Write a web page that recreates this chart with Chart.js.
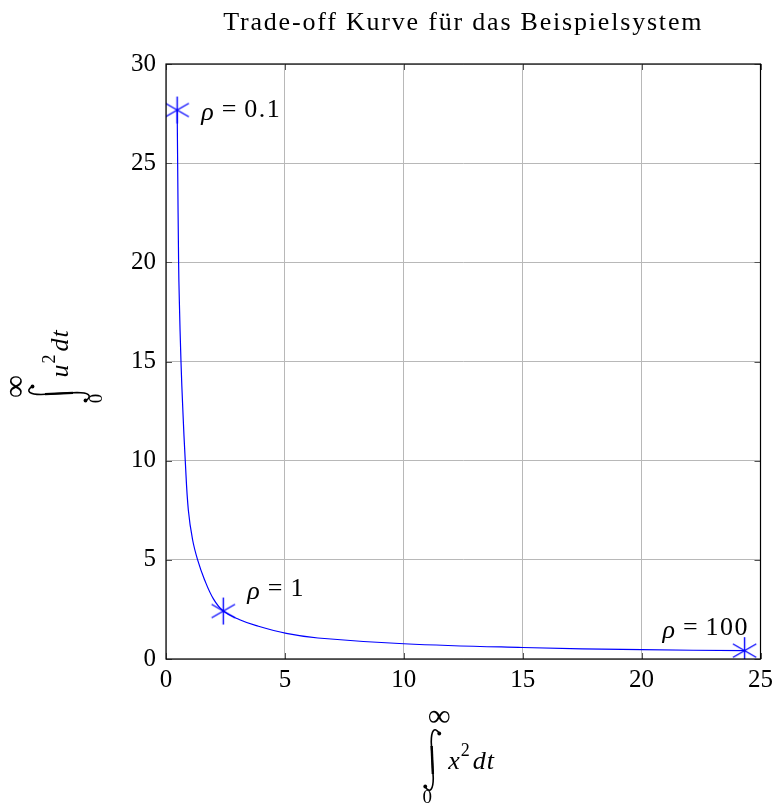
<!DOCTYPE html>
<html>
<head>
<meta charset="utf-8">
<script src="https://cdn.jsdelivr.net/npm/chart.js@4/dist/chart.umd.min.js"></script>
<style>
  html, body { margin: 0; padding: 0; background: #fff; }
  #wrap { width: 779px; height: 808px; position: relative; }
</style>
</head>
<body>
<div id="wrap"><canvas id="c" width="779" height="808"></canvas></div>
<script>
// ---- data ----
const titleText = "Trade-off Kurve für das Beispielsystem";
const curveX = [0.47, 0.49, 0.53, 0.56, 0.63, 0.71, 0.81, 0.94, 1.12, 1.33, 1.62, 2.0, 2.41, 3.1, 3.8, 5.06, 6.39, 10, 15, 20, 24.33];
const curveY = [27.68, 25, 20, 18.1, 15, 12.5, 10, 7.5, 6.0, 5.0, 4.0, 3.02, 2.42, 1.98, 1.68, 1.29, 1.06, 0.77, 0.58, 0.47, 0.42];
const markerRho = ["0.1", "1", "100"];
const markerX = [0.47, 2.41, 24.33];
const markerY = [27.68, 2.42, 0.42];
const xTicks = [0, 5, 10, 15, 20, 25];
const yTicks = [0, 5, 10, 15, 20, 25, 30];

const SERIF = '"Liberation Serif", "DejaVu Serif", serif';
const BLUE = '#0000ff';

// asterisk marker (6 arms, one vertical)
function makeAsterisk(r, color, lw) {
  const s = Math.ceil(2 * r + 4);
  const cv = document.createElement('canvas');
  cv.width = s; cv.height = s;
  const g = cv.getContext('2d');
  g.strokeStyle = color; g.lineWidth = lw;
  g.translate(s / 2, s / 2);
  for (let k = 0; k < 3; k++) {
    const a = Math.PI / 2 + k * Math.PI / 3;
    g.beginPath();
    g.moveTo(-r * Math.cos(a), -r * Math.sin(a));
    g.lineTo(r * Math.cos(a), r * Math.sin(a));
    g.stroke();
  }
  return cv;
}
const star = makeAsterisk(13.5, BLUE, 1.4);

function drawIntegralLabel(ctx, cx, cy, rot, varName) {
  ctx.save();
  ctx.translate(cx, cy);
  ctx.rotate(rot);
  ctx.fillStyle = '#000';
  ctx.strokeStyle = '#000';
  // integral sign (path)
  ctx.beginPath();
  ctx.lineWidth = 1.6;
  ctx.moveTo(7, -27);
  ctx.bezierCurveTo(2, -34, -1, -29, -1, -18);
  ctx.lineTo(1, 18);
  ctx.bezierCurveTo(1, 29, -2, 34, -7, 27);
  ctx.stroke();
  ctx.beginPath(); ctx.lineWidth = 2.4;
  ctx.moveTo(-0.6, -14); ctx.lineTo(0.6, 14); ctx.stroke();
  ctx.beginPath(); ctx.arc(7, -26.5, 1.9, 0, Math.PI * 2); ctx.fill();
  ctx.beginPath(); ctx.arc(-7, 26.5, 1.9, 0, Math.PI * 2); ctx.fill();
  // limits
  ctx.textAlign = 'center'; ctx.textBaseline = 'middle';
  ctx.font = '32px ' + SERIF;
  ctx.fillText('∞', 7, -42);
  ctx.font = '19px ' + SERIF;
  ctx.fillText('0', -5, 38);
  // integrand
  ctx.textAlign = 'left'; ctx.textBaseline = 'alphabetic';
  ctx.font = 'italic 26px ' + SERIF;
  let x = 16;
  ctx.fillText(varName, x, 9);
  x += ctx.measureText(varName).width + 1;
  ctx.font = '18px ' + SERIF;
  ctx.fillText('2', x, -4);
  x += ctx.measureText('2').width + 3;
  ctx.font = 'italic 26px ' + SERIF;
  ctx.letterSpacing = '1px';
  ctx.fillText('dt', x, 9);
  ctx.restore();
}

function drawRho(ctx, x, y, val, align) {
  ctx.save();
  ctx.fillStyle = '#000';
  ctx.textBaseline = 'middle';
  const f1 = 'italic 26px ' + SERIF, f2 = '26px ' + SERIF;
  const gap = 8;
  ctx.font = f1; const w1 = ctx.measureText('ρ').width;
  ctx.font = f2; const we = ctx.measureText('=').width; const wv = ctx.measureText(val).width + (val.length - 1) * 1.5;
  const total = w1 + gap + we + gap + wv;
  let sx = align === 'right' ? x - total : x;
  ctx.textAlign = 'left';
  ctx.font = f1; ctx.fillText('ρ', sx, y + 3);
  ctx.font = f2; ctx.fillText('=', sx + w1 + gap, y);
  ctx.letterSpacing = '1.5px';
  ctx.fillText(val, sx + w1 + gap + we + gap, y);
  ctx.restore();
}

const decor = {
  id: 'decor',
  beforeDatasetsDraw(chart) {
    const { ctx, chartArea: a, scales } = chart;
    ctx.save();
    // inner tick marks
    ctx.strokeStyle = '#555'; ctx.lineWidth = 1;
    xTicks.forEach(v => {
      const px = Math.round(scales.x.getPixelForValue(v)) + 0.5;
      ctx.beginPath();
      ctx.moveTo(px, a.bottom); ctx.lineTo(px, a.bottom - 6);
      ctx.moveTo(px, a.top); ctx.lineTo(px, a.top + 6);
      ctx.stroke();
    });
    yTicks.forEach(v => {
      const py = Math.round(scales.y.getPixelForValue(v)) + 0.5;
      ctx.beginPath();
      ctx.moveTo(a.left, py); ctx.lineTo(a.left + 6, py);
      ctx.moveTo(a.right, py); ctx.lineTo(a.right - 6, py);
      ctx.stroke();
    });
    ctx.restore();
  },
  afterDraw(chart) {
    const { ctx, chartArea: a, scales } = chart;
    ctx.save();
    // frame
    ctx.strokeStyle = '#000'; ctx.lineWidth = 1.2;
    ctx.strokeRect(a.left, a.top, a.right - a.left, a.bottom - a.top);
    // title
    ctx.fillStyle = '#000';
    ctx.font = '26px ' + SERIF;
    ctx.letterSpacing = '1.8px';
    ctx.textAlign = 'center'; ctx.textBaseline = 'alphabetic';
    ctx.fillText(titleText, (a.left + a.right) / 2, 30);
    ctx.letterSpacing = '0px';
    // point labels
    const p = markerX.map((v, i) => [scales.x.getPixelForValue(v), scales.y.getPixelForValue(markerY[i])]);
    drawRho(ctx, p[0][0] + 24, p[0][1], markerRho[0], 'left');
    drawRho(ctx, p[1][0] + 24, p[1][1] - 22, markerRho[1], 'left');
    drawRho(ctx, p[2][0] + 3, p[2][1] - 22, markerRho[2], 'right');
    // axis labels
    drawIntegralLabel(ctx, (a.left + a.right) / 2 - 31, 760, 0, 'x');
    drawIntegralLabel(ctx, 59, (a.top + a.bottom) / 2 + 32, -Math.PI / 2, 'u');
    ctx.restore();
  }
};

new Chart(document.getElementById('c'), {
  type: 'scatter',
  data: {
    datasets: [
      {
        data: curveX.map((x, i) => ({ x, y: curveY[i] })),
        showLine: true,
        borderColor: BLUE,
        borderWidth: 1.2,
        pointRadius: 0,
        tension: 0.4,
        order: 2
      },
      {
        data: markerX.map((x, i) => ({ x, y: markerY[i] })),
        showLine: false,
        pointStyle: star,
        pointRadius: 14,
        order: 1
      }
    ]
  },
  options: {
    responsive: false,
    animation: false,
    devicePixelRatio: 1,
    layout: { padding: { left: 0, top: 64, right: 17, bottom: 0 } },
    plugins: { legend: { display: false }, tooltip: { enabled: false }, title: { display: false } },
    scales: {
      x: {
        type: 'linear', min: 0, max: 25,
        afterBuildTicks: s => { s.ticks = xTicks.map(v => ({ value: v })); },
        afterFit: s => { s.height = 149; },
        grid: { color: '#b8b8b8', lineWidth: 1, tickLength: 0, drawTicks: false },
        border: { display: false },
        ticks: { color: '#000', font: { family: SERIF, size: 25 }, padding: 6, maxRotation: 0 }
      },
      y: {
        type: 'linear', min: 0, max: 30,
        afterBuildTicks: s => { s.ticks = yTicks.map(v => ({ value: v })); },
        afterFit: s => { s.width = 166; },
        grid: { color: '#b8b8b8', lineWidth: 1, tickLength: 0, drawTicks: false },
        border: { display: false },
        ticks: { color: '#000', font: { family: SERIF, size: 25 }, padding: 10 }
      }
    }
  },
  plugins: [decor]
});
</script>
</body>
</html>
